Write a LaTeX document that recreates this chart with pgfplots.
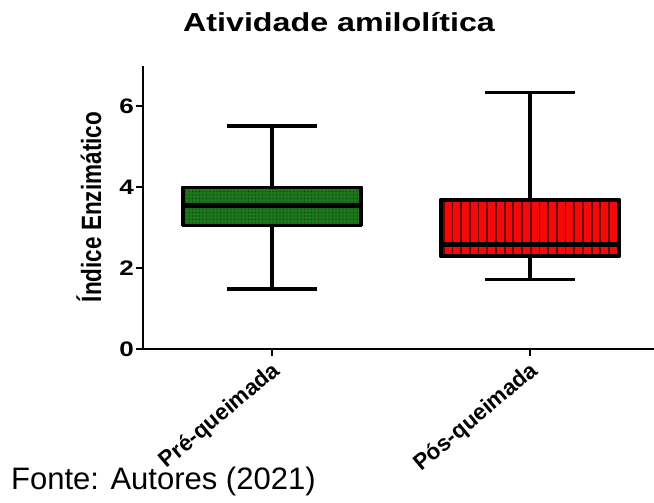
\documentclass[border=0pt]{standalone}
\usepackage{pgfplots}
\pgfplotsset{compat=1.18}
\usepackage{graphicx}
\usepackage{fontspec}
\setmainfont{Liberation Sans}
\usetikzlibrary{patterns.meta}
\usepgfplotslibrary{statistics}
\newcommand\sx[1]{\scalebox{1.24}[1]{#1}}
\definecolor{mygreen}{RGB}{28,118,28}
\definecolor{myred}{RGB}{245,10,10}
\begin{document}
\begin{tikzpicture}[x=1pt,y=1pt]
\useasboundingbox (0,0) rectangle (654,503);
\begin{axis}[
  at={(143pt,154pt)}, anchor=south west,
  scale only axis, width=511pt, height=283pt,
  xmin=0.5, xmax=2.48, ymin=0, ymax=7,
  boxplot/draw direction=y,
  axis lines=left, axis line style={line width=2.4pt, -},
  ytick={0,2,4,6}, yticklabels={\sx{0},\sx{2},\sx{4},\sx{6}},
  xtick={1,2}, xticklabels={Pré-queimada,Pós-queimada},
  tick align=outside, major tick length=7pt,
  tick style={line width=2pt, black},
  yticklabel style={font=\fontsize{21}{21}\selectfont\bfseries, inner sep=2pt},
  xticklabel style={font=\fontsize{22.5}{22.5}\selectfont\bfseries, rotate=40, anchor=north east, inner sep=2pt, xshift=-2pt},
  clip=false,
]
\addplot[boxplot prepared={draw position=1, lower whisker=1.49, lower quartile=3.06,
    median=3.56, upper quartile=4.0, upper whisker=5.52, box extend=0.69, whisker extend=0.35},
  draw=black, line width=3.5pt, line join=round, fill=mygreen,
  boxplot/every box/.style={postaction={pattern={Dots[distance=3.5pt, radius=0.6pt]}, pattern color=black!55!mygreen}},
  boxplot/every median/.style={line width=5pt}]
  coordinates {};
\addplot[boxplot prepared={draw position=2, lower whisker=1.72, lower quartile=2.30,
    median=2.59, upper quartile=3.69, upper whisker=6.34, box extend=0.69, whisker extend=0.35},
  draw=black, line width=3.5pt, line join=round, fill=myred,
  boxplot/every box/.style={postaction={pattern={Lines[angle=90, distance=8.7pt, line width=1.8pt]}, pattern color=black!55!myred}},
  boxplot/every median/.style={line width=5pt}]
  coordinates {};
\end{axis}
\node[anchor=base] at (339,471) {\sx{\fontsize{26}{26}\selectfont\bfseries Atividade amilolítica}};
\node[rotate=90] at (89,296) {\scalebox{1}[1.24]{\fontsize{22.5}{22.5}\selectfont\bfseries Índice Enzimático}};
\node[anchor=base west, inner sep=0pt] at (11,13) {\fontsize{31}{31}\selectfont Fonte: Autores (2021)};
\end{tikzpicture}
\end{document}
